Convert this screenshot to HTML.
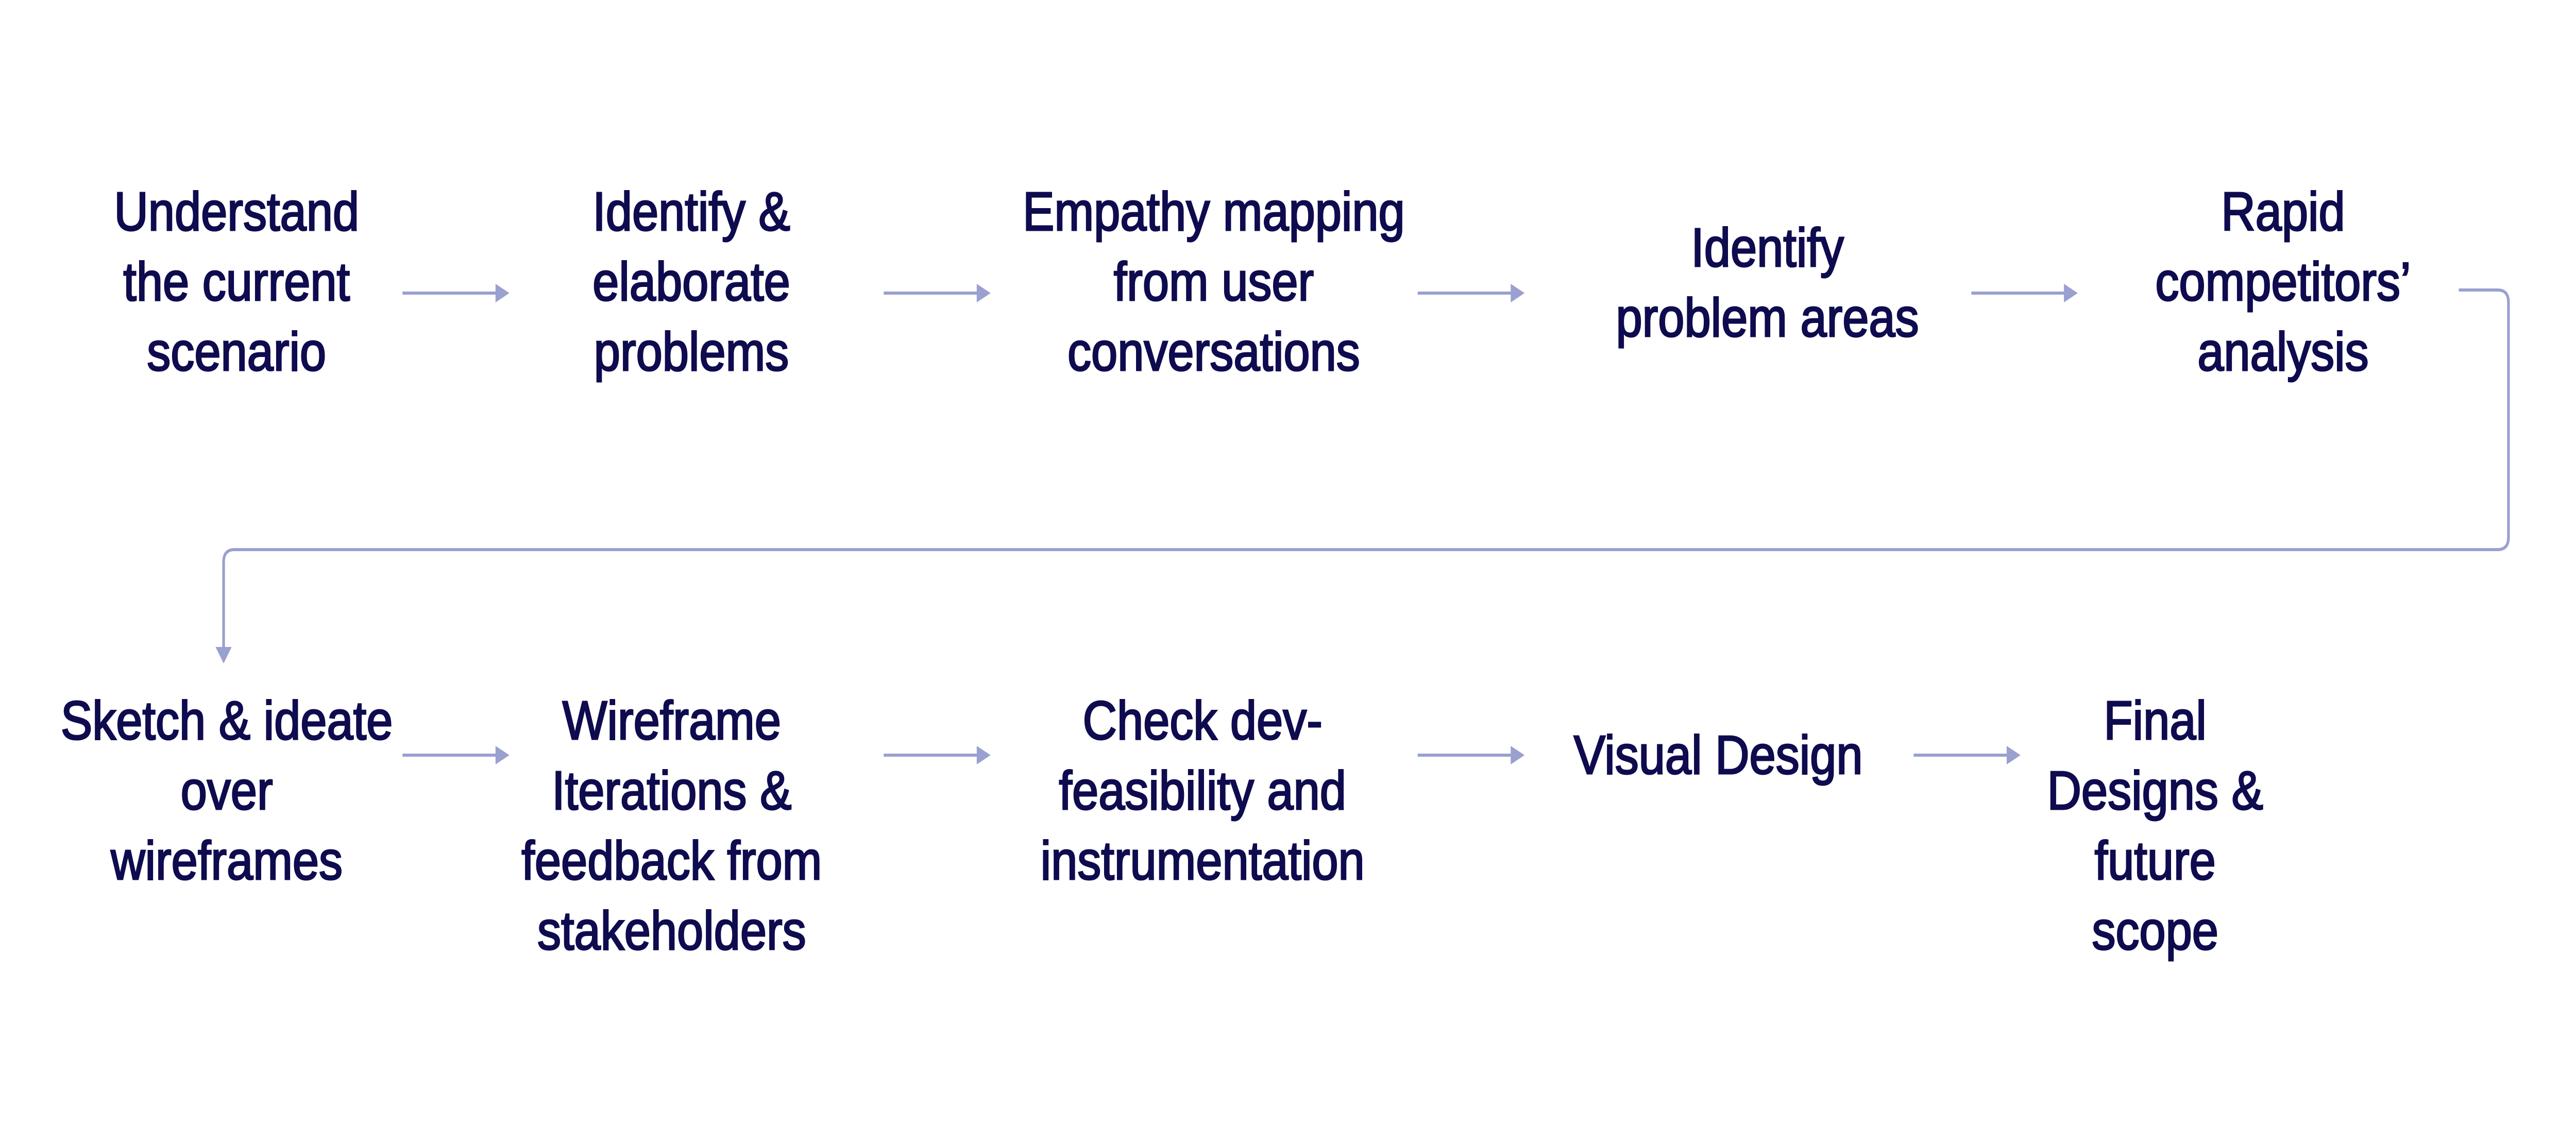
<!DOCTYPE html>
<html><head><meta charset="utf-8"><style>
html,body{margin:0;padding:0;background:#fff;overflow:hidden;width:100%;height:100%;}
svg{display:block;position:fixed;top:0;left:0;width:100vw;height:100vh;}
text{font-family:"Liberation Sans",sans-serif;font-size:106px;fill:#0e0b4f;stroke:#0e0b4f;stroke-width:3px;text-anchor:middle;dominant-baseline:central;}
</style></head><body>
<svg viewBox="0 0 5760 2217" preserveAspectRatio="none" xmlns="http://www.w3.org/2000/svg">
<g stroke="#9aa0d0" stroke-width="6" fill="none">
<line x1="900" y1="569" x2="1110" y2="569"/>
<line x1="1976" y1="569" x2="2186" y2="569"/>
<line x1="3170" y1="569" x2="3380" y2="569"/>
<line x1="4408" y1="569" x2="4618" y2="569"/>
<path d="M5498 563 H5585 Q5609 563 5609 587 V1043 Q5609 1067 5585 1067 H524 Q500 1067 500 1091 V1258"/>
<line x1="900" y1="1466" x2="1110" y2="1466"/>
<line x1="1976" y1="1466" x2="2186" y2="1466"/>
<line x1="3170" y1="1466" x2="3380" y2="1466"/>
<line x1="4279" y1="1466" x2="4489" y2="1466"/>
</g>
<g fill="#9aa0d0">
<polygon points="1139,569 1108,551 1108,587"/>
<polygon points="2215,569 2184,551 2184,587"/>
<polygon points="3409,569 3378,551 3378,587"/>
<polygon points="4646,569 4615,551 4615,587"/>
<polygon points="500,1288 482,1256 518,1256"/>
<polygon points="1139,1466 1108,1448 1108,1484"/>
<polygon points="2215,1466 2184,1448 2184,1484"/>
<polygon points="3409,1466 3378,1448 3378,1484"/>
<polygon points="4518,1466 4487,1448 4487,1484"/>
</g>
<text x="529" y="411">Understand</text>
<text x="529" y="547">the current</text>
<text x="529" y="683">scenario</text>
<text x="1546" y="411">Identify &amp;</text>
<text x="1546" y="547">elaborate</text>
<text x="1546" y="683">problems</text>
<text x="2714" y="411">Empathy mapping</text>
<text x="2714" y="547">from user</text>
<text x="2714" y="683">conversations</text>
<text x="3952" y="481">Identify</text>
<text x="3952" y="617">problem areas</text>
<text x="5105" y="411">Rapid</text>
<text x="5105" y="547">competitors’</text>
<text x="5105" y="683">analysis</text>
<text x="507" y="1399">Sketch &amp; ideate</text>
<text x="507" y="1535">over</text>
<text x="507" y="1671">wireframes</text>
<text x="1502" y="1399">Wireframe</text>
<text x="1502" y="1535">Iterations &amp;</text>
<text x="1502" y="1671">feedback from</text>
<text x="1502" y="1807">stakeholders</text>
<text x="2689" y="1399">Check dev-</text>
<text x="2689" y="1535">feasibility and</text>
<text x="2689" y="1671">instrumentation</text>
<text x="3842" y="1466">Visual Design</text>
<text x="4819" y="1399">Final</text>
<text x="4819" y="1535">Designs &amp;</text>
<text x="4819" y="1671">future</text>
<text x="4819" y="1807">scope</text>
</svg>
</body></html>
